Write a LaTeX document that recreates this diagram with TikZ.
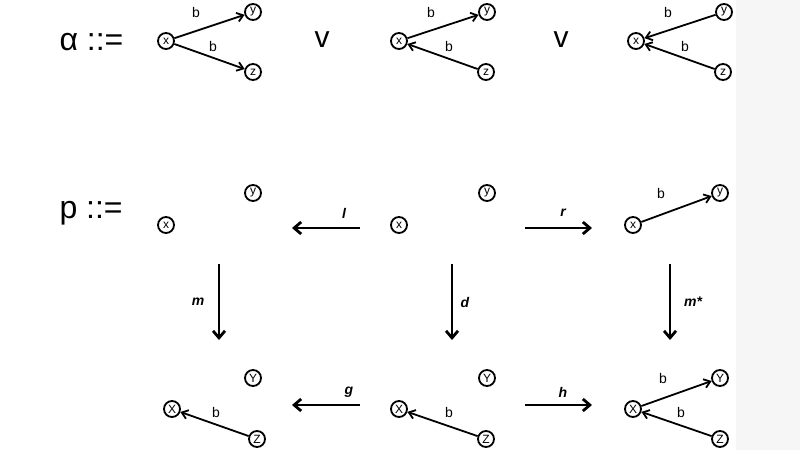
\documentclass[tikz,border=0pt]{standalone}
\usepackage{fontspec}
\setmainfont{Liberation Sans}
\usetikzlibrary{arrows.meta}
\begin{document}
\begin{tikzpicture}[x=1pt,y=-1pt,
  v/.style={circle,draw,line width=1.8pt,inner sep=0pt,minimum size=16pt,font=\fontsize{12}{12}\selectfont},
  e/.style={line width=1.8pt,-{Straight Barb[length=6pt,width=9pt]}},
  big/.style={line width=2.8pt,-{Straight Barb[length=7pt,width=12pt]}},
  lb/.style={font=\fontsize{14}{14}\selectfont},
  al/.style={font=\bfseries\itshape\fontsize{14}{14}\selectfont},
  hd/.style={font=\fontsize{32}{32}\selectfont,anchor=west}]
\useasboundingbox (0,0) rectangle (800,450);
\fill[gray!7] (736,0) rectangle (800,450);
\node[hd] (alpha) at (56,42) {α ::=};
\node[hd] (p) at (56,213) {p ::=};
\node[font=\fontsize{30}{30}\selectfont] (v1) at (322,40) {v};
\node[font=\fontsize{30}{30}\selectfont] (v2) at (561,40) {v};
% top group 1
\node[v] (a1x) at (166,41) {x}; \node[v] (a1y) at (253,12) {y}; \node[v] (a1z) at (253,72) {z};
\draw[e] (a1x) -- (a1y); \draw[e] (a1x) -- (a1z);
\node[lb] (a1b1) at (196,12) {b}; \node[lb] (a1b2) at (213,46) {b};
% top group 2
\node[v] (a2x) at (399,41) {x}; \node[v] (a2y) at (487,12) {y}; \node[v] (a2z) at (486,72) {z};
\draw[e] (a2x) -- (a2y); \draw[e] (a2z) -- (a2x);
\node[lb] (a2b1) at (431,12) {b}; \node[lb] (a2b2) at (449,46) {b};
% top group 3
\node[v] (a3x) at (636,41) {x}; \node[v] (a3y) at (724,12) {y}; \node[v] (a3z) at (723,72) {z};
\draw[e] (a3y) -- (a3x); \draw[e] (a3z) -- (a3x);
\node[lb] (a3b1) at (668,12) {b}; \node[lb] (a3b2) at (685,46) {b};
% row 2
\node[v] (b1x) at (166,225) {x}; \node[v] (b1y) at (253,193) {y};
\node[v] (b2x) at (399,225) {x}; \node[v] (b2y) at (487,193) {y};
\node[v] (b3x) at (633,225) {x}; \node[v] (b3y) at (720,193) {y};
\draw[e] (b3x) -- (b3y); \node[lb] (b3b) at (661,193) {b};
% row 3
\node[v] (c1x) at (172,409) {X}; \node[v] (c1y) at (253,378) {Y}; \node[v] (c1z) at (257,439) {Z};
\draw[e] (c1z) -- (c1x); \node[lb] (c1b) at (216,412) {b};
\node[v] (c2x) at (399,409) {X}; \node[v] (c2y) at (487,378) {Y}; \node[v] (c2z) at (486,439) {Z};
\draw[e] (c2z) -- (c2x); \node[lb] (c2b) at (449,412) {b};
\node[v] (c3x) at (633,409) {X}; \node[v] (c3y) at (720,378) {Y}; \node[v] (c3z) at (720,439) {Z};
\draw[e] (c3x) -- (c3y); \draw[e] (c3z) -- (c3x);
\node[lb] (c3b1) at (663,378) {b}; \node[lb] (c3b2) at (681,412) {b};
% morphism arrows
\coordinate (ls) at (360,228); \coordinate (le) at (292,228);
\coordinate (rs) at (525,228); \coordinate (re) at (592,228);
\coordinate (gs) at (360,405); \coordinate (ge) at (292,405);
\coordinate (hs) at (525,405); \coordinate (he) at (592,405);
\coordinate (ms) at (219,264); \coordinate (me) at (219,340);
\coordinate (ds) at (452,264); \coordinate (de) at (452,340);
\coordinate (ns) at (670,264); \coordinate (ne) at (670,340);
\draw[big] (ls) -- (le); \draw[big] (rs) -- (re);
\draw[big] (gs) -- (ge); \draw[big] (hs) -- (he);
\draw[big] (ms) -- (me); \draw[big] (ds) -- (de); \draw[big] (ns) -- (ne);
\node[al] (ll) at (344,213) {l}; \node[al] (rl) at (563,213) {r};
\node[al] (gl) at (349,392) {g}; \node[al] (hl) at (563,392) {h};
\node[al] (ml) at (198,302) {m}; \node[al] (dl) at (465,302) {d}; \node[al] (nl) at (693,302) {m*};
\end{tikzpicture}
\end{document}
